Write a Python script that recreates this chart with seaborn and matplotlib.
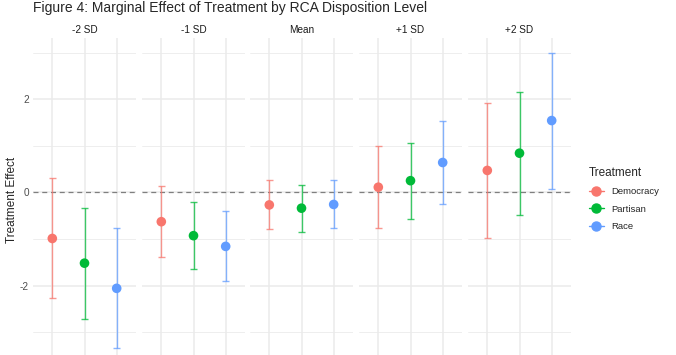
import numpy as np
import pandas as pd
import matplotlib
matplotlib.use('Agg')
import matplotlib.pyplot as plt
import seaborn as sns

levels = ['-2 SD', '-1 SD', 'Mean', '+1 SD', '+2 SD']
treatments = ['Democracy', 'Partisan', 'Race']
colors = ['#F8766D', '#00BA38', '#619CFF']

est_democracy = [-0.99, -0.63, -0.27, 0.11, 0.47]
est_partisan = [-1.52, -0.93, -0.34, 0.25, 0.84]
est_race = [-2.06, -1.16, -0.26, 0.64, 1.54]

low_democracy = [-2.27, -1.38, -0.79, -0.77, -0.97]
low_partisan = [-2.71, -1.65, -0.85, -0.57, -0.48]
low_race = [-3.34, -1.91, -0.77, -0.24, 0.08]

high_democracy = [0.30, 0.13, 0.26, 0.99, 1.91]
high_partisan = [-0.33, -0.21, 0.16, 1.06, 2.16]
high_race = [-0.76, -0.41, 0.26, 1.53, 3.00]

rows = []
for t, est, lo, hi in [('Democracy', est_democracy, low_democracy, high_democracy),
                       ('Partisan', est_partisan, low_partisan, high_partisan),
                       ('Race', est_race, low_race, high_race)]:
    for lev, e, l, h in zip(levels, est, lo, hi):
        rows.append({'level': lev, 'treatment': t, 'estimate': e, 'low': l, 'high': h})
df = pd.DataFrame(rows)
df['xpos'] = df['treatment'].map({t: i for i, t in enumerate(treatments)})

sns.set_theme(style='white')
plt.rcParams['font.family'] = ['Liberation Sans', 'DejaVu Sans']

W, H = 676, 355
fig = plt.figure(figsize=(W / 100, H / 100), dpi=100)

lefts = [33, 142, 250, 359, 468]
pw = 103
top_px, bot_px = 37.6, 362.9
palette = dict(zip(treatments, colors))

for i, lev in enumerate(levels):
    ax = fig.add_axes([lefts[i] / W, 1 - bot_px / H, pw / W, (bot_px - top_px) / H])
    sub = df[df['level'] == lev]
    # grid like theme_minimal
    for y in [-3, -1, 1, 3]:
        ax.axhline(y, color='#EBEBEB', lw=0.6, zorder=0)
    for y in [-2, 0, 2]:
        ax.axhline(y, color='#EBEBEB', lw=1.1, zorder=0)
    for x in range(3):
        ax.axvline(x, color='#EBEBEB', lw=1.1, zorder=0)
    ax.axhline(0, color='#7F7F7F', lw=0.9, ls=(0, (4, 3)), zorder=1)
    for _, r in sub.iterrows():
        c = palette[r['treatment']]
        ax.vlines(r['xpos'], r['low'], r['high'], color=c, lw=1.0, alpha=0.75, zorder=2)
        ax.hlines([r['low'], r['high']], r['xpos'] - 0.1, r['xpos'] + 0.1, color=c, lw=1.0,
                  alpha=0.75, zorder=2)
    sns.scatterplot(data=sub, x='xpos', y='estimate', hue='treatment', palette=palette,
                    hue_order=treatments, s=48, edgecolor='none', legend=False, ax=ax, zorder=3)
    ax.set_xlim(-0.6, 2.6)
    ax.set_ylim(-3.66, 3.32)
    for s in ax.spines.values():
        s.set_visible(False)
    ax.set_xticks([])
    ax.set_xlabel('')
    ax.set_title(lev, fontsize=7.2, color='#1A1A1A', pad=3.5)
    ax.set_ylabel('')
    if i == 0:
        ax.set_yticks([-2, 0, 2])
        ax.set_yticklabels(['-2', '0', '2'])
        ax.tick_params(axis='y', length=0, labelsize=7.2, labelcolor='#4D4D4D', pad=3)
    else:
        ax.set_yticks([])

fig.text(12 / W, 1 - 200 / H, 'Treatment Effect', fontsize=8.5, rotation=90,
         va='center', ha='center')
fig.text(33 / W, 1 - 8 / H, 'Figure 4: Marginal Effect of Treatment by RCA Disposition Level',
         fontsize=10, va='center', ha='left')

handles = [plt.Line2D([0], [0], marker='o', color=c, lw=1.0, markersize=6.5, label=t)
           for t, c in zip(treatments, colors)]
leg = fig.legend(handles=handles, title='Treatment', loc='upper left',
                 bbox_to_anchor=(580 / W, 1 - 158 / H), frameon=False, fontsize=6.8,
                 title_fontsize=8.5, handlelength=1.6, handletextpad=0.8, labelspacing=0.9)
leg._legend_box.align = 'left'

fig.savefig('out.png', dpi=100)
